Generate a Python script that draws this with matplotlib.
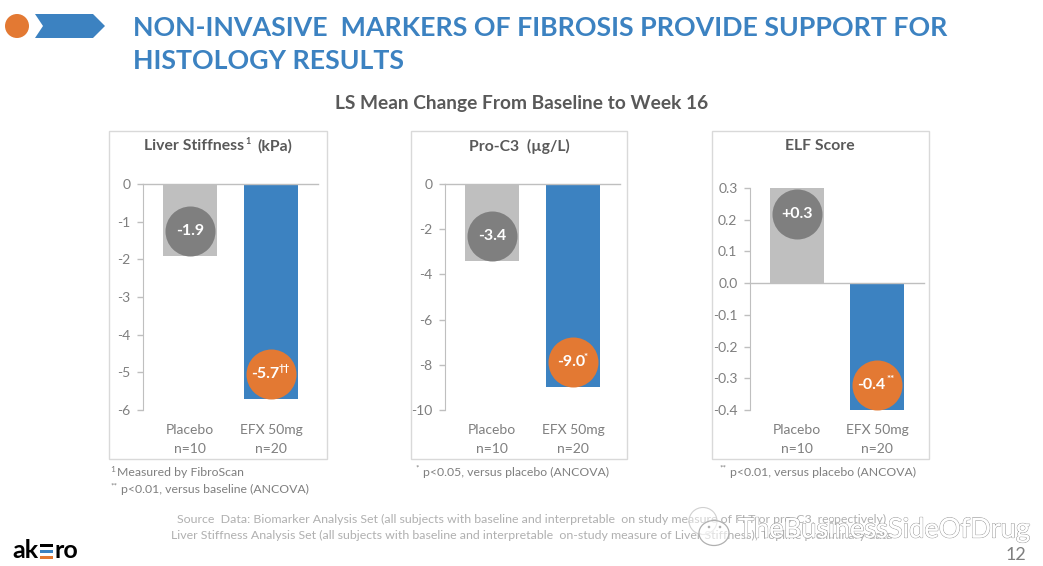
import matplotlib
matplotlib.use("Agg")
import matplotlib.pyplot as plt
from matplotlib.patches import Circle, Polygon, Rectangle, Ellipse
from matplotlib.transforms import offset_copy
import matplotlib.patheffects as pe

plt.rcParams['font.family'] = ['Lato', 'DejaVu Sans']

# values
categories = ["Placebo\nn=10", "EFX 50mg\nn=20"]
liver_values = [-1.9, -5.7]
proc3_values = [-3.4, -9.0]
elf_values = [0.3, -0.4]
liver_ticks = [0, -1, -2, -3, -4, -5, -6]
proc3_ticks = [0, -2, -4, -6, -8, -10]
elf_ticks = [0.3, 0.2, 0.1, 0.0, -0.1, -0.2, -0.3, -0.4]
liver_labels = ["-1.9", "-5.7"]
proc3_labels = ["-3.4", "-9.0"]
elf_labels = ["+0.3", "-0.4"]

BLUE = "#3c82c1"
LIGHT = "#bfbfbf"
DARK_CIRCLE = "#7f7f7f"
ORANGE = "#e37933"
TEXT = "#7f7f7f"

W, H = 1043, 566
fig = plt.figure(figsize=(W / 100, H / 100), dpi=100)

# full-slide axes in pixel coordinates for title, boxes, footers
bg = fig.add_axes([0, 0, 1, 1])
bg.set_xlim(0, W)
bg.set_ylim(H, 0)
bg.axis("off")


def chart(left, right, top, bottom, values, ticks, fmt, labels, sups, ymin, ymax, shift):
    ax = fig.add_axes([left / W, 1 - bottom / H, (right - left) / W, (bottom - top) / H])
    ax.patch.set_alpha(0)
    ax.bar([0, 1], values, width=0.667, color=[LIGHT, BLUE])
    ax.set_xlim(-0.58, 1.58)
    ax.set_ylim(ymin, ymax)
    ax.set_yticks(ticks)
    ax.set_yticklabels([fmt.format(t) for t in ticks])
    ax.set_xticks([0, 1])
    ax.set_xticklabels(categories, linespacing=1.7)
    ax.tick_params(axis="y", colors=TEXT, labelsize=10, length=4, width=1, color=LIGHT, pad=5)
    ax.tick_params(axis="x", colors=TEXT, labelsize=10, length=0, pad=10)
    for s in ["top", "right", "bottom"]:
        ax.spines[s].set_visible(False)
    ax.spines["left"].set_color(LIGHT)
    ax.axhline(0, color=LIGHT, lw=1, clip_on=False, zorder=3)
    # value circles sit 25 px inside the bar end
    for i, v in enumerate(values):
        dy = 25 if v < 0 else -26
        tr = offset_copy(ax.transData, fig=fig, x=0, y=dy, units="dots")
        col = DARK_CIRCLE if i == 0 else ORANGE
        ax.plot([i], [v], marker="o", ms=36, mfc=col, mec="none", transform=tr,
                clip_on=False, zorder=4)
        # label moves left to leave room for the superscript
        dx = shift if sups[i] else 0
        tr1 = offset_copy(ax.transData, fig=fig, x=dx, y=dy, units="dots")
        ax.text(i, v, labels[i], color="white", fontsize=11.5, fontweight="bold",
                ha="center", va="center", transform=tr1, zorder=5)
        if sups[i]:
            tr2 = offset_copy(ax.transData, fig=fig, x=13, y=dy + 5, units="dots")
            ax.text(i, v, sups[i], color="white", fontsize=7, fontweight="bold",
                    ha="center", va="center", transform=tr2, zorder=5)
    return ax


chart(143, 318, 184, 410, liver_values, liver_ticks, "{:d}", liver_labels, ["", "††"], -6, 0, -6)
chart(445, 620, 184, 410, proc3_values, proc3_ticks, "{:d}", proc3_labels, ["", "*"], -10, 0, -2)
chart(750, 924, 188, 410, elf_values, elf_ticks, "{:.1f}", elf_labels, ["", "**"], -0.4, 0.3, -6)

# panel boxes and panel titles
for x0, x1 in [(109, 327), (411, 627), (712, 929)]:
    bg.add_patch(Rectangle((x0, 131), x1 - x0, 328, fc="none", ec="#d9d9d9", lw=1))
PANEL = "#595959"
bg.text(244, 146, "Liver Stiffness", color=PANEL, fontsize=11.3, fontweight="bold", ha="right", va="center")
bg.text(245, 142, "1", color=PANEL, fontsize=6.5, fontweight="bold", ha="left", va="center")
bg.text(257, 146, "(kPa)", color=PANEL, fontsize=11.3, fontweight="bold", ha="left", va="center")
bg.text(519, 146, "Pro-C3  (µg/L)", color=PANEL, fontsize=11.3, fontweight="bold", ha="center", va="center")
bg.text(820, 146, "ELF Score", color=PANEL, fontsize=11.3, fontweight="bold", ha="center", va="center")

# slide header
bg.add_patch(Circle((17, 26), 12, fc=ORANGE, ec="none"))
bg.add_patch(Polygon([(35, 14), (93, 14), (105, 26), (93, 38), (35, 38), (43, 26)], fc=BLUE, ec="none"))
bg.text(133, 28, "NON-INVASIVE  MARKERS OF FIBROSIS PROVIDE SUPPORT FOR", color=BLUE,
        fontsize=19.3, fontweight="bold", va="center")
bg.text(133, 61, "HISTOLOGY RESULTS", color=BLUE, fontsize=19.3, fontweight="bold", va="center")
bg.text(522, 104, "LS Mean Change From Baseline to Week 16", color=PANEL, fontsize=13.8,
        fontweight="bold", ha="center", va="center")

# footnotes
FOOT = "#7f7f7f"
bg.text(110, 469, "1", color=FOOT, fontsize=6, va="center")
bg.text(117, 472, "Measured by FibroScan", color=FOOT, fontsize=8.8, va="center")
bg.text(110, 486, "**", color=FOOT, fontsize=6, va="center")
bg.text(121, 489, "p<0.01, versus baseline (ANCOVA)", color=FOOT, fontsize=8.8, va="center")
bg.text(415, 468, "*", color=FOOT, fontsize=6, va="center")
bg.text(423, 472, "p<0.05, versus placebo (ANCOVA)", color=FOOT, fontsize=8.8, va="center")
bg.text(719, 468, "**", color=FOOT, fontsize=6, va="center")
bg.text(730, 472, "p<0.01, versus placebo (ANCOVA)", color=FOOT, fontsize=8.8, va="center")

# source lines
SRC = "#b0b0b0"
bg.text(177, 519, "Source  Data: Biomarker Analysis Set (all subjects with baseline and interpretable  on study measure of FLT or pro-C3, respectively)",
        color=SRC, fontsize=8.9, va="center")
bg.text(171, 535, "Liver Stiffness Analysis Set (all subjects with baseline and interpretable  on-study measure of Liver Stiffness); Topline preliminary data",
        color=SRC, fontsize=8.9, va="center")

# watermark
wm = bg.text(738, 530, "TheBusinessSideOfDrug", color="white", fontsize=19.6, va="center", zorder=6)
wm.set_path_effects([pe.withStroke(linewidth=0.9, foreground="#9a9a9a"), pe.Normal()])
bg.add_patch(Ellipse((703, 521), 28, 27, fc=(1, 1, 1, 0.45), ec="#d0d0d0", lw=0.8, zorder=6))
bg.add_patch(Ellipse((714, 533), 30, 25, fc=(1, 1, 1, 0.6), ec="#b0b0b0", lw=0.9, zorder=6))
for ex in [709, 720]:
    bg.add_patch(Circle((ex, 527), 1.3, fc="#b0b0b0", ec="none", zorder=7))

# logo and page number
bg.text(12, 551, "ak", color="black", fontsize=18, fontweight="bold", va="center")
for y, col in [(545, "black"), (551, "#3c82c1"), (557, ORANGE)]:
    bg.add_patch(Rectangle((40, y - 1), 13, 2.6, fc=col, ec="none"))
bg.text(55, 551, "ro", color="black", fontsize=18, fontweight="bold", va="center")
bg.text(1016, 555, "12", color=TEXT, fontsize=13, ha="center", va="center")

fig.savefig("out.png", dpi=100)
